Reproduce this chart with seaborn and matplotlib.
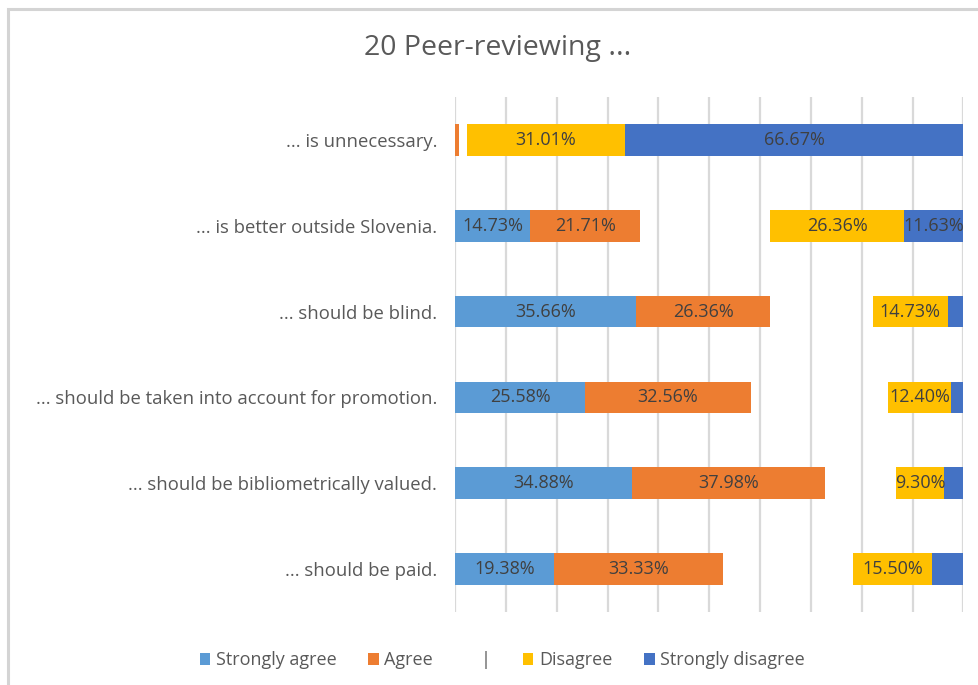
import numpy as np
import pandas as pd
import matplotlib.pyplot as plt
import seaborn as sns
from matplotlib.patches import Patch, Rectangle

# statements (top to bottom)
statements = [
    "... is unnecessary.",
    "... is better outside Slovenia.",
    "... should be blind.",
    "... should be taken into account for promotion.",
    "... should be bibliometrically valued.",
    "... should be paid.",
]

# percentages per answer
strongly_agree = [0.00, 14.73, 35.66, 25.58, 34.88, 19.38]
agree = [0.78, 21.71, 26.36, 32.56, 37.98, 33.33]
neutral = [1.55, 25.57, 20.15, 27.13, 13.96, 25.58]  # drawn as an empty gap
disagree = [31.01, 26.36, 14.73, 12.40, 9.30, 15.50]
strongly_disagree = [66.67, 11.63, 3.10, 2.33, 3.88, 6.20]

series_names = ["Strongly agree", "Agree", "|", "Disagree", "Strongly disagree"]
series_values = [strongly_agree, agree, neutral, disagree, strongly_disagree]
series_colors = ["#5B9BD5", "#ED7D31", "none", "#FFC000", "#4472C4"]

title = "20 Peer-reviewing ..."
text_color = "#595959"

sns.set_theme(style="white")
plt.rcParams["font.family"] = ["Open Sans", "DejaVu Sans"]

fig = plt.figure(figsize=(9.79, 6.85), dpi=100)
ax = fig.add_axes([0.465, 0.1066, 0.519, 0.7518])

# outer chart border like the spreadsheet frame
fig.patches.append(Rectangle((8 / 979, -0.02), 1.05, 1 - 9 / 685 + 0.02,
                             transform=fig.transFigure, fill=False,
                             edgecolor="#D4D4D4", linewidth=2.2, zorder=0))

left = np.zeros(len(statements))
for name, vals, color in zip(series_names, series_values, series_colors):
    vals = np.array(vals)
    df = pd.DataFrame({"statement": statements, "value": vals})
    n_before = len(ax.patches)
    sns.barplot(data=df, y="statement", x="value", orient="h", ax=ax,
                color="white" if color == "none" else color, width=0.37,
                errorbar=None, saturation=1, zorder=2)
    bars = ax.patches[n_before:]
    for bar, off, v in zip(bars, left, vals):
        bar.set_x(off)
        bar.set_linewidth(0)
        if color == "none":
            bar.set_visible(False)
        elif v >= 8:
            ax.text(off + v / 2, bar.get_y() + bar.get_height() / 2, f"{v:.2f}%",
                    ha="center", va="center", fontsize=13, color="#404040", zorder=3)
    left = left + vals

ax.set_xlim(0, 100)
ax.set_ylim(5.5, -0.5)
ax.set_xticks(np.arange(0, 101, 10))
ax.set_xticklabels([])
ax.grid(axis="x", color="#D9D9D9", linewidth=1.6, zorder=0)
ax.grid(axis="y", visible=False)
ax.set_axisbelow(True)
for s in ax.spines.values():
    s.set_visible(False)
ax.set_xlabel("")
ax.set_ylabel("")
ax.tick_params(axis="y", length=0, pad=13, labelsize=13.3, labelcolor=text_color)
ax.tick_params(axis="x", length=0)

fig.text(0.508, 0.93, title, ha="center", va="center", fontsize=20.5, color=text_color)

handles = []
for name, color in zip(series_names, series_colors):
    if color == "none":
        handles.append(Patch(facecolor="none", edgecolor="none", label=name))
    else:
        handles.append(Patch(facecolor=color, edgecolor="none", label=name))
fig.legend(handles=handles, loc="center", bbox_to_anchor=(0.513, 0.036), ncol=5,
           frameon=False, fontsize=13, labelcolor=text_color, handlelength=0.6,
           handleheight=0.6, handletextpad=0.3, columnspacing=1.75)

fig.savefig("out.png", dpi=100)
